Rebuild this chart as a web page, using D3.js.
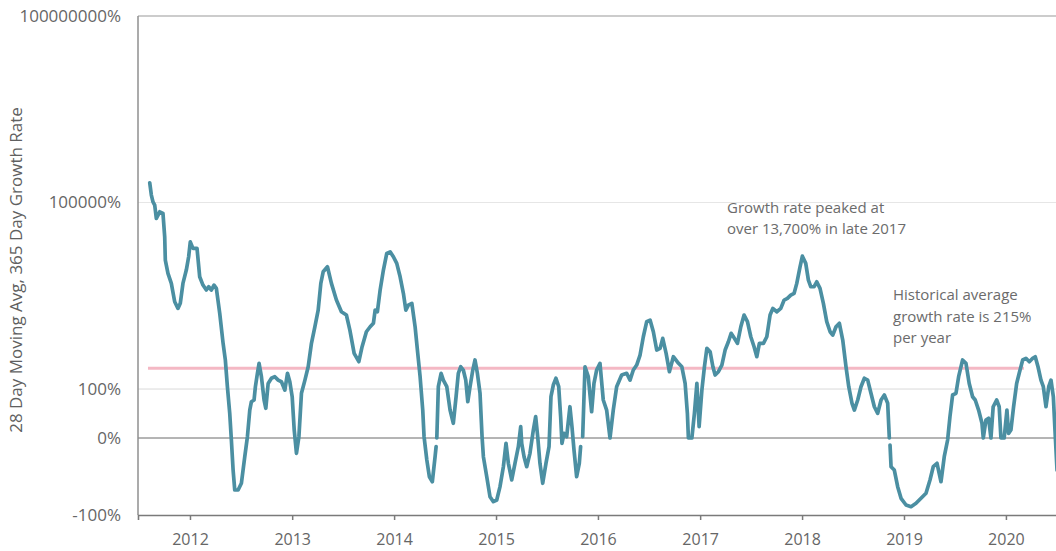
<!DOCTYPE html>
<html><head><meta charset="utf-8">
<script src="https://cdn.jsdelivr.net/npm/d3@7"></script>
<style>
body{margin:0;background:#fff;}
svg text{font-family:"Open Sans",sans-serif;}
</style></head><body>
<svg id="chart" width="1056" height="551"></svg>
<script>
// decimal years of each reading
const years = [
2011.605,2011.621,2011.637,2011.654,2011.670,2011.703,2011.735,2011.752,2011.758,2011.784,2011.817,2011.850,2011.882,2011.905,2011.931,2011.964,2011.987,
2012.003,2012.029,2012.069,2012.095,2012.127,2012.160,2012.183,2012.209,2012.235,2012.258,2012.291,2012.324,2012.346,2012.366,2012.389,2012.405,2012.422,2012.438,2012.471,2012.503,2012.536,2012.562,2012.585,2012.601,2012.627,2012.640,2012.660,2012.676,2012.699,2012.725,2012.742,2012.765,2012.797,2012.830,2012.863,2012.895,2012.928,2012.954,2012.977,
2013.000,2013.020,2013.042,2013.066,2013.091,2013.125,2013.157,2013.189,2013.223,2013.255,2013.281,2013.304,2013.346,2013.385,2013.434,2013.483,2013.532,2013.566,2013.608,2013.654,2013.686,2013.728,2013.765,2013.797,2013.814,2013.836,2013.863,2013.895,2013.928,2013.961,2013.993,
2014.026,2014.059,2014.091,2014.115,2014.140,2014.174,2014.206,2014.232,2014.255,2014.281,2014.294,2014.321,2014.346,2014.375,2014.402,2014.412,2014.415,2014.419,2014.434,2014.461,2014.483,2014.517,2014.549,2014.581,2014.608,2014.630,2014.654,2014.679,2014.703,2014.723,2014.745,2014.772,2014.794,2014.817,2014.843,2014.863,2014.876,2014.909,2014.941,2014.974,
2015.007,2015.039,2015.072,2015.098,2015.121,2015.154,2015.186,2015.219,2015.242,2015.252,2015.275,2015.301,2015.333,2015.366,2015.389,2015.409,2015.431,2015.458,2015.490,2015.520,2015.539,2015.562,2015.588,2015.615,2015.634,2015.647,2015.667,2015.693,2015.725,2015.745,2015.765,2015.791,2015.817,2015.830,2015.840,2015.850,2015.873,2015.905,2015.938,2015.961,2015.987,
2016.020,2016.052,2016.085,2016.118,2016.150,2016.183,2016.232,2016.281,2016.314,2016.346,2016.379,2016.412,2016.444,2016.477,2016.510,2016.542,2016.575,2016.608,2016.634,2016.667,2016.699,2016.738,2016.788,2016.821,2016.853,2016.875,2016.885,2016.919,2016.944,2016.968,2016.990,
2017.017,2017.042,2017.066,2017.098,2017.125,2017.147,2017.179,2017.213,2017.245,2017.277,2017.304,2017.336,2017.366,2017.399,2017.431,2017.464,2017.497,2017.529,2017.556,2017.581,2017.621,2017.654,2017.686,2017.713,2017.752,2017.791,2017.824,2017.856,2017.889,2017.922,2017.948,2017.980,
2018.003,2018.036,2018.062,2018.085,2018.118,2018.144,2018.176,2018.209,2018.242,2018.275,2018.301,2018.333,2018.366,2018.399,2018.431,2018.458,2018.490,2018.513,2018.546,2018.578,2018.611,2018.644,2018.676,2018.709,2018.742,2018.775,2018.807,2018.840,2018.856,2018.860,2018.863,2018.873,2018.905,2018.938,2018.971,
2019.020,2019.069,2019.118,2019.167,2019.216,2019.255,2019.287,2019.324,2019.363,2019.395,2019.428,2019.451,2019.477,2019.510,2019.536,2019.575,2019.608,2019.640,2019.673,2019.699,2019.732,2019.765,2019.778,2019.804,2019.830,2019.853,2019.875,2019.909,2019.934,2019.951,2019.983,
2020.010,2020.026,2020.049,2020.075,2020.105,2020.130,2020.164,2020.196,2020.229,2020.262,2020.287,2020.314,2020.343,2020.366,2020.392,2020.419,2020.441,2020.464,2020.480,2020.500
];
// 28-day moving average of the 365-day growth rate, in percent (null = gap in the series)
const growth = [
207000,131500,102600,90800,55500,70900,66800,28100,11860,7240,5000,2530,1980,2390,5000,8190,13400,
23300,18300,18300,6390,4700,3910,4420,3910,4700,4160,1650,543,293,109,40.7,-2.6,-41.6,-67.5,-67.5,-58.8,-24.3,17.1,45.9,62.5,66.6,109,179,259,158,66.6,49,123,149,158,139,131,96,179,131,
75.2,21.9,-19.9,17.1,85.3,139,228,543,1004,1862,5000,7690,9250,5000,2700,1750,1550,888,375,275,479,834,1004,1140,1862,1750,3910,8190,15200,16100,13400,
10500,6390,3460,1862,2240,2390,1004,375,158,45.9,17.1,-28.6,-50.3,-56.8,-24.3,-11.3,null,16,109,179,139,109,45.9,28.1,75.2,179,228,202,139,62.5,109,202,293,179,85.3,17.1,-24.3,-50.3,-76.2,-82.7,
-80.5,-63.2,-37.3,-6.9,-32.9,-54.5,-32.9,-11.3,24.8,-6.9,-24.3,-37.3,-19.9,21.9,35.9,17.1,-32.9,-58.8,-32.9,-11.3,75.2,116,149,109,35.9,-6.9,19.4,17.1,51.9,24.8,-15.6,-50.3,-32.9,-11.3,null,17.1,228,158,43.1,123,202,
259,66.6,45.9,16.3,45.9,109,168,179,139,202,243,352,693,1210,1285,834,424,451,653,375,190,331,259,228,123,40.7,16.3,16.3,40.7,123,24.8,
96,228,451,398,228,168,190,243,424,576,786,653,543,1004,1550,1210,693,479,331,543,543,693,1550,1980,1750,1980,2700,2870,3240,3460,5000,9250,
13700,10500,5650,4420,4420,5310,4160,2390,1210,834,738,1004,1140,613,228,109,58.9,45.9,66.6,109,149,139,85.3,51.9,40.7,66.6,80.1,58.9,16.3,null,-9.1,-37.3,-41.6,-63.2,-78.3,
-87.0,-89.2,-84.8,-78.3,-71.8,-54.5,-37.3,-32.9,-56.8,-24.3,-2.6,35.9,80.1,85.3,158,293,259,123,75.2,66.6,45.9,28.1,16.3,31.7,33.8,16.3,51.9,66.6,51.9,16.3,16.3,
45.9,19.4,21.9,51.9,123,179,293,312,275,312,331,228,139,109,51.9,109,139,75.2,21.9,-41.6
];
const yTickValues = [-100, 0, 100, 100000, 100000000];
const yTickLabels = ["-100%", "0%", "100%", "100000%", "100000000%"];
const historicalAverage = 215;          // percent per year
const averageSpan = [2011.588, 2020.176]; // decimal years covered by the average line
const yTitle = "28 Day Moving Avg, 365 Day Growth Rate";
const peakNote = ["Growth rate peaked at", "over 13,700% in late 2017"];
const avgNote = ["Historical average", "growth rate is 215%", "per year"];

const toDate = t => {
  const yr = Math.floor(t);
  const a = new Date(yr, 0, 1), b = new Date(yr + 1, 0, 1);
  return new Date(+a + (t - yr) * (b - a));
};

const svg = d3.select("#chart");
const plotLeft = 138, plotTop = 16, plotBottom = 515, zeroY = 438, plotRight = 1070;

const x = d3.scaleTime().domain([toDate(2011.49), toDate(2020.627)]).range([plotLeft, plotRight]);
const yNeg = d3.scaleLinear().domain([-100, 0]).range([plotBottom, zeroY]);
const yPos = d3.scaleLog().domain([16.3, 1e8]).range([zeroY, plotTop]).clamp(true);
const y = v => v <= 0 ? yNeg(v) : yPos(v);

const n = Math.min(years.length, growth.length);
const data = years.slice(0, n).map((t, i) => ({date: toDate(t), v: growth[i]}));

// gridlines
const gridLevels = [100000, 100, 0];
const gridColors = ["#e6e6e6", "#d9d9d9", "#6b6b6b"];
svg.append("g").selectAll("line").data(gridLevels).join("line")
  .attr("x1", plotLeft).attr("x2", 1056)
  .attr("y1", d => y(d)).attr("y2", d => y(d))
  .attr("stroke", (d, i) => gridColors[i]).attr("stroke-width", 1);
// top frame
svg.append("line").attr("x1", plotLeft).attr("x2", 1056).attr("y1", y(1e8)).attr("y2", y(1e8))
  .attr("stroke", "#9a9a9a").attr("stroke-width", 1.2);
// left axis line
svg.append("line").attr("x1", plotLeft).attr("x2", plotLeft).attr("y1", y(1e8)).attr("y2", plotBottom)
  .attr("stroke", "#8f8f8f").attr("stroke-width", 1.5);

// y tick labels
svg.append("g").selectAll("text").data(yTickValues).join("text")
  .attr("x", 121).attr("y", d => y(d)).attr("dy", "0.35em")
  .attr("text-anchor", "end").attr("font-size", 17).attr("fill", "#666")
  .text((d, i) => yTickLabels[i]);

// y title
svg.append("text").attr("transform", `translate(22,${(108 + 432) / 2}) rotate(-90)`)
  .attr("text-anchor", "middle").attr("font-size", 17).attr("fill", "#606060").text(yTitle);

// x axis
const xAxis = svg.append("g").attr("transform", `translate(0,${plotBottom})`)
  .call(d3.axisBottom(x).ticks(d3.timeYear.every(1)).tickFormat(d3.timeFormat("%Y"))
    .tickSizeInner(5).tickSizeOuter(5).tickPadding(14));
xAxis.select(".domain").attr("stroke", "#7a7a7a").attr("stroke-width", 1.6);
xAxis.selectAll(".tick line").attr("stroke", "#7a7a7a").attr("stroke-width", 1.5);
xAxis.selectAll(".tick text").attr("font-size", 16).attr("fill", "#666")
  .attr("font-family", "Open Sans, sans-serif");

// average line
svg.append("line")
  .attr("x1", x(toDate(averageSpan[0]))).attr("x2", x(toDate(averageSpan[1])))
  .attr("y1", y(historicalAverage)).attr("y2", y(historicalAverage))
  .attr("stroke", "#f4b8c4").attr("stroke-width", 3);

// series line
const line = d3.line().defined(d => d.v !== null && d.v !== undefined).x(d => x(d.date)).y(d => y(d.v));
svg.append("path").datum(data).attr("d", line).attr("fill", "none")
  .attr("stroke", "#4b8fa2").attr("stroke-width", 3.7)
  .attr("stroke-linejoin", "round").attr("stroke-linecap", "round");

// annotations
svg.append("text").attr("font-size", 15).attr("fill", "#6b6b6b")
  .selectAll("tspan").data(peakNote).join("tspan")
  .attr("x", 727).attr("y", (d, i) => 213 + i * 21).text(d => d);
svg.append("text").attr("font-size", 15).attr("fill", "#6b6b6b")
  .selectAll("tspan").data(avgNote).join("tspan")
  .attr("x", 893).attr("y", (d, i) => 300 + i * 21.5).text(d => d);
</script>
</body></html>
